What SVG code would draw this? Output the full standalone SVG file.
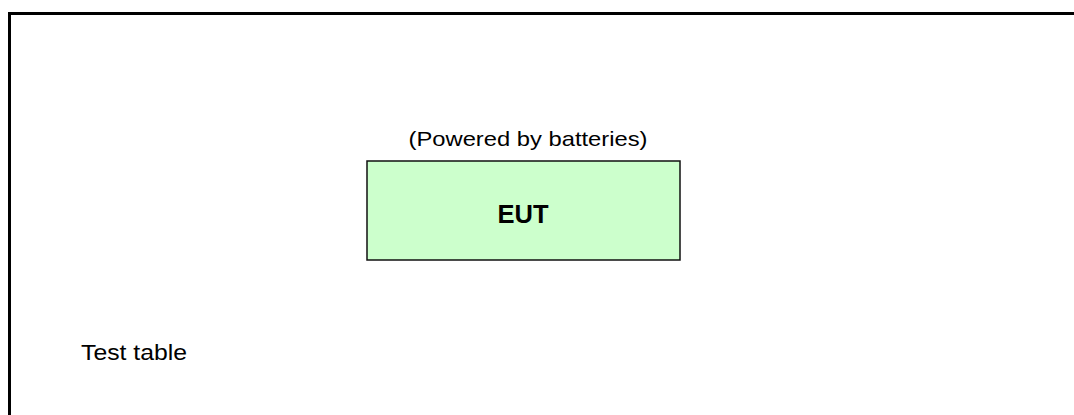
<svg xmlns="http://www.w3.org/2000/svg" width="1074" height="415" viewBox="0 0 1074 415">
<style>
.t{font-family:"Liberation Sans",Arial,sans-serif;fill:#000}
.frame{fill:none;stroke:#000;stroke-width:3}
.box{fill:#CCFFCC;stroke:#111;stroke-width:1.5}
</style>
<rect width="1074" height="415" fill="#fff"/>
<g id="table">
<rect class="frame" x="9.5" y="13.5" width="1080" height="420"/>
<text class="t" x="81" y="360" font-size="22" textLength="106" lengthAdjust="spacingAndGlyphs">Test table</text>
</g>
<g id="eut">
<rect class="box" x="367" y="161" width="313" height="99"/>
<text class="t" x="497.5" y="223" font-size="26" font-weight="bold" textLength="51" lengthAdjust="spacingAndGlyphs">EUT</text>
<text class="t" x="408.5" y="145.5" font-size="21" textLength="239" lengthAdjust="spacingAndGlyphs">(Powered by batteries)</text>
</g>
<g id="connectors"></g>
</svg>
